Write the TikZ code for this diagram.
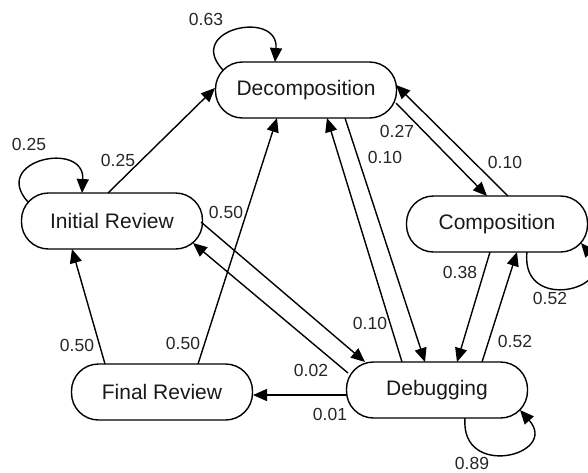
\documentclass[tikz,border=0pt]{standalone}
\usepackage{fontspec}
\setmainfont{Liberation Sans}
\usetikzlibrary{arrows.meta}
\begin{document}
\begin{tikzpicture}[x=1pt,y=-1pt,
  state/.style={draw, line width=1.4pt, rounded corners=27pt,
    minimum width=181pt, minimum height=56pt, inner sep=0pt,
    font=\fontsize{21}{25}\selectfont, text=black!90},
  link/.style={line width=1.4pt, -{Triangle[length=14pt,width=12pt]}},
  prob/.style={font=\fontsize{17.5}{21}\selectfont, inner sep=0pt, text=black!85}]
\useasboundingbox (0,0) rectangle (588,472);

% states
\node[state] (dec)  at (306,90)  {Decomposition};
\node[state] (ir)   at (112,221) {Initial Review};
\node[state] (fr)   at (162,392) {Final Review};
\node[state] (dbg)  at (437,390) {Debugging};
\node[state] (comp) at (497,224) {Composition};

% self loops
\draw[link] ([shift={(-84,-19)}]ir.center) .. controls ([shift={(-122,-61)}]ir.center)
  and ([shift={(-27,-81)}]ir.center) .. ([shift={(-30,-28)}]ir.center);
\draw[link] ([shift={(-83,-20)}]dec.center) .. controls ([shift={(-122,-61)}]dec.center)
  and ([shift={(-27,-81)}]dec.center) .. ([shift={(-31,-28)}]dec.center);
\draw[link] ([shift={(28,28)}]dbg.center) .. controls ([shift={(23,90)}]dbg.center)
  and ([shift={(123,65)}]dbg.center) .. ([shift={(83,20)}]dbg.center);
\draw[link] ([shift={(30,28)}]comp.center) .. controls ([shift={(23,90)}]comp.center)
  and ([shift={(123,65)}]comp.center) .. ([shift={(84,19)}]comp.center);

% transitions
\draw[link] ([shift={(-4,-28)}]ir.center) -- ([shift={(-91,-2)}]dec.center);
\draw[link] ([shift={(-57,-28)}]fr.center) -- ([shift={(-40,28)}]ir.center);
\draw[link] ([shift={(36,-28)}]fr.center) -- ([shift={(-29,28)}]dec.center);
\draw[link] ([shift={(89,1)}]ir.center) -- ([shift={(-72,-28)}]dbg.center);
\draw[link] ([shift={(-89,-17)}]dbg.center) -- ([shift={(81,22)}]ir.center);
\draw[link] ([shift={(-90,5)}]dbg.center) -- ([shift={(91,3)}]fr.center);
\draw[link] ([shift={(39,28)}]dec.center) -- ([shift={(-12,-28)}]dbg.center);
\draw[link] ([shift={(-35,-28)}]dbg.center) -- ([shift={(21,28)}]dec.center);
\draw[link] ([shift={(90,13)}]dec.center) -- ([shift={(-10,-28)}]comp.center);
\draw[link] ([shift={(11,-28)}]comp.center) -- ([shift={(90,-5)}]dec.center);
\draw[link] ([shift={(-7,28)}]comp.center) -- ([shift={(20,-28)}]dbg.center);
\draw[link] ([shift={(45,-28)}]dbg.center) -- ([shift={(20,28)}]comp.center);

% transition probabilities
\node[prob] (p1)  at (206,19)  {0.63};
\node[prob] (p2)  at (29,144)  {0.25};
\node[prob] (p3)  at (118,160) {0.25};
\node[prob] (p4)  at (226,212) {0.50};
\node[prob] (p5)  at (397,131) {0.27};
\node[prob] (p6)  at (385,157) {0.10};
\node[prob] (p7)  at (505,162) {0.10};
\node[prob] (p8)  at (460,272) {0.38};
\node[prob] (p9)  at (550,298) {0.52};
\node[prob] (p10) at (370,323) {0.10};
\node[prob] (p11) at (515,341) {0.52};
\node[prob] (p12) at (311,370) {0.02};
\node[prob] (p13) at (330,414) {0.01};
\node[prob] (p14) at (472,463) {0.89};
\node[prob] (p15) at (77,345)  {0.50};
\node[prob] (p16) at (183,343) {0.50};
\end{tikzpicture}
\end{document}
